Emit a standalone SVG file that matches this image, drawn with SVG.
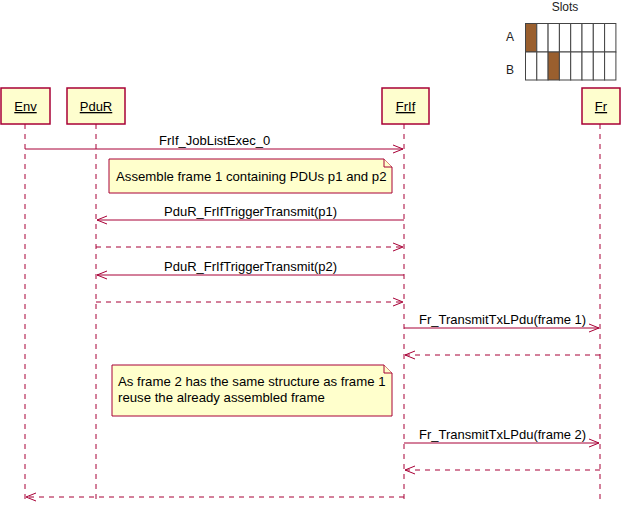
<svg xmlns="http://www.w3.org/2000/svg" width="623" height="511" viewBox="0 0 623 511">
<style>
.box{fill:#FEFECE;stroke:#A80036;stroke-width:1.5}
.life{stroke:#A80036;stroke-width:1;stroke-dasharray:5,5;fill:none}
.msg{stroke:#A80036;stroke-width:1;fill:none}
.ret{stroke:#A80036;stroke-width:1;fill:none;stroke-dasharray:5,5}
.head{stroke:#A80036;stroke-width:1;fill:none}
.note{fill:#FFFFCC;stroke:#A80036;stroke-width:1}
.t{font-family:"Liberation Sans",Arial,sans-serif;font-size:13px;fill:#000}
.nt{font-family:"Liberation Sans",Arial,sans-serif;font-size:13.2px;fill:#000}
.pt{font-family:"Liberation Sans",Arial,sans-serif;font-size:13px;fill:#000;text-decoration:underline;text-anchor:middle}
.st{font-family:"Liberation Sans",Arial,sans-serif;font-size:12px;fill:#222;text-anchor:middle}
.slot{fill:#fff;stroke:#444;stroke-width:1}
.on{fill:#9A5F2E}
</style>
<g id="lifelines">
<line class="life" x1="25" y1="124" x2="25" y2="504"/>
<line class="life" x1="96" y1="124" x2="96" y2="504"/>
<line class="life" x1="404" y1="124" x2="404" y2="504"/>
<line class="life" x1="600" y1="124" x2="600" y2="504"/>
</g>
<g id="Env"><rect class="box" x="1" y="88" width="49" height="36"/><text class="pt" x="25.5" y="111">Env</text></g>
<g id="PduR"><rect class="box" x="67" y="88" width="58" height="36"/><text class="pt" x="96" y="111">PduR</text></g>
<g id="FrIf"><rect class="box" x="382" y="88" width="47" height="36"/><text class="pt" x="405.5" y="111">FrIf</text></g>
<g id="Fr"><rect class="box" x="582" y="88" width="38" height="36"/><text class="pt" x="601" y="111">Fr</text></g>
<g id="connectors">
<line class="msg" x1="25" y1="149" x2="403" y2="149"/><polyline class="head" points="393,145 403,149 393,153"/>
<line class="msg" x1="404" y1="220" x2="97" y2="220"/><polyline class="head" points="107,216 97,220 107,224"/>
<line class="ret" x1="96" y1="247" x2="403" y2="247"/><polyline class="head" points="393,243 403,247 393,251"/>
<line class="msg" x1="404" y1="275" x2="97" y2="275"/><polyline class="head" points="107,271 97,275 107,279"/>
<line class="ret" x1="96" y1="302" x2="403" y2="302"/><polyline class="head" points="393,298 403,302 393,306"/>
<line class="msg" x1="404" y1="328" x2="599" y2="328"/><polyline class="head" points="589,324 599,328 589,332"/>
<line class="ret" x1="600" y1="355" x2="405" y2="355"/><polyline class="head" points="415,351 405,355 415,359"/>
<line class="msg" x1="404" y1="443" x2="599" y2="443"/><polyline class="head" points="589,439 599,443 589,447"/>
<line class="ret" x1="600" y1="470" x2="405" y2="470"/><polyline class="head" points="415,466 405,470 415,474"/>
<line class="ret" x1="404" y1="497" x2="26" y2="497"/><polyline class="head" points="36,493 26,497 36,501"/>
</g>
<g id="labels">
<text class="t" x="159" y="145">FrIf_JobListExec_0</text>
<text class="t" x="164" y="216">PduR_FrIfTriggerTransmit(p1)</text>
<text class="t" x="164" y="271">PduR_FrIfTriggerTransmit(p2)</text>
<text class="t" x="419" y="324">Fr_TransmitTxLPdu(frame 1)</text>
<text class="t" x="419" y="439">Fr_TransmitTxLPdu(frame 2)</text>
</g>
<g id="note1">
<path class="note" d="M109,159 L384,159 L392,167 L392,193 L109,193 Z"/>
<path class="note" d="M384,159 L384,167 L392,167"/>
<text class="nt" x="116" y="181">Assemble frame 1 containing PDUs p1 and p2</text>
</g>
<g id="note2">
<path class="note" d="M112,365 L384,365 L392,373 L392,416 L112,416 Z"/>
<path class="note" d="M384,365 L384,373 L392,373"/>
<text class="nt" x="118" y="386">As frame 2 has the same structure as frame 1</text>
<text class="nt" x="118" y="402">reuse the already assembled frame</text>
</g>
<g id="slots">
<text class="st" x="565" y="11">Slots</text>
<text class="st" x="510" y="41">A</text>
<text class="st" x="510" y="74">B</text>
<rect class="slot on" x="525.5" y="23.5" width="11.3" height="28.5"/>
<rect class="slot" x="536.8" y="23.5" width="11.3" height="28.5"/>
<rect class="slot" x="548.1" y="23.5" width="11.3" height="28.5"/>
<rect class="slot" x="559.4" y="23.5" width="11.3" height="28.5"/>
<rect class="slot" x="570.7" y="23.5" width="11.3" height="28.5"/>
<rect class="slot" x="582" y="23.5" width="11.3" height="28.5"/>
<rect class="slot" x="593.3" y="23.5" width="11.3" height="28.5"/>
<rect class="slot" x="604.6" y="23.5" width="11.3" height="28.5"/>
<rect class="slot" x="525.5" y="52" width="11.3" height="28"/>
<rect class="slot" x="536.8" y="52" width="11.3" height="28"/>
<rect class="slot on" x="548.1" y="52" width="11.3" height="28"/>
<rect class="slot" x="559.4" y="52" width="11.3" height="28"/>
<rect class="slot" x="570.7" y="52" width="11.3" height="28"/>
<rect class="slot" x="582" y="52" width="11.3" height="28"/>
<rect class="slot" x="593.3" y="52" width="11.3" height="28"/>
<rect class="slot" x="604.6" y="52" width="11.3" height="28"/>
</g>
</svg>
